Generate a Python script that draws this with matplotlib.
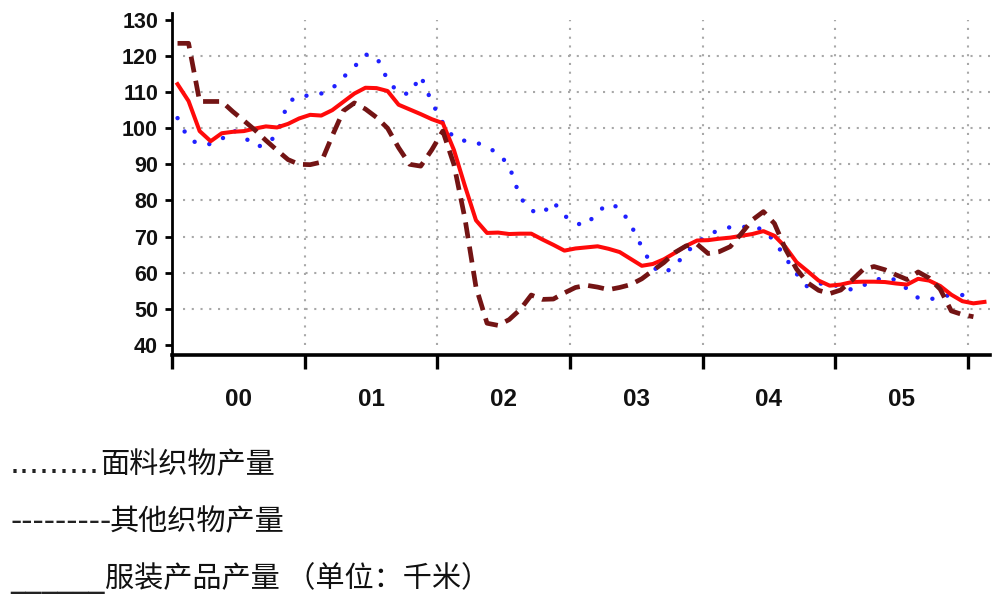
import numpy as np
import matplotlib
matplotlib.use("Agg")
import matplotlib.pyplot as plt

# monthly index values, Jan 2000 onward
fabric = [102.8, 97.0, 95.6, 95.6, 97.0, 99.5, 97.7, 94.9, 95.3, 98.3, 107.2, 109.0,
          109.0, 109.6, 111.0, 114.1, 117.0, 120.4, 119.8, 113.4, 109.7, 109.5, 114.5, 107.2,
          101.5, 97.3, 96.5, 96.1, 94.7, 93.1, 89.6, 80.8, 77.2, 76.3, 79.6, 75.8,
          73.6, 73.2, 76.9, 79.0, 78.0, 73.3, 67.1, 61.5, 59.8, 61.9, 65.5, 68.3,
          70.5, 71.8, 72.6, 72.7, 72.6, 72.0, 68.7, 64.1, 59.7, 56.0, 57.0, 56.8,
          56.1, 55.3, 56.4, 57.9, 58.6, 58.0, 55.5, 53.0, 52.6, 53.2, 53.9, 53.8,
          53.1]
other = [123.5, 123.5, 107.4, 107.4, 107.4, 104.6, 102.1, 99.5, 96.6, 93.9, 91.3, 90.0,
         89.9, 90.6, 97.9, 104.8, 107.0, 105.3, 103.0, 100.0, 94.6, 90.0, 89.5, 94.0,
         99.2, 90.0, 75.0, 56.0, 46.0, 45.4, 47.0, 49.8, 53.8, 52.6, 52.7, 54.4,
         55.9, 56.5, 56.0, 55.3, 55.9, 56.7, 58.3, 60.6, 62.8, 65.6, 67.4, 67.9,
         65.3, 65.8, 67.2, 70.8, 74.6, 76.9, 73.6, 66.5, 61.0, 57.2, 55.1, 54.2,
         55.2, 57.9, 60.8, 61.7, 60.8, 59.4, 58.1, 60.2, 58.5, 55.4, 49.4, 48.4,
         47.8]
apparel = [112.2, 107.5, 99.2, 96.4, 98.6, 99.0, 99.2, 99.9, 100.5, 100.2, 101.2, 102.7,
           103.7, 103.5, 105.0, 107.3, 109.6, 111.2, 111.1, 110.3, 106.5, 105.2, 103.9, 102.5,
           101.4, 94.0, 84.0, 74.5, 71.0, 71.1, 70.7, 70.8, 70.8, 69.2, 67.7, 66.1,
           66.7, 67.0, 67.3, 66.6, 65.7, 63.8, 61.9, 62.4, 63.7, 65.5, 67.4, 68.9,
           69.0, 69.4, 69.7, 70.2, 70.7, 71.5, 70.2, 67.1, 62.9, 60.4, 57.8, 56.4,
           56.7, 57.4, 57.5, 57.5, 57.4, 57.0, 56.7, 58.3, 57.8, 56.3, 53.9, 52.1,
           51.5, 51.9]

year_labels = ["00", "01", "02", "03", "04", "05"]
y_ticks = [40, 50, 60, 70, 80, 90, 100, 110, 120, 130]
legend_labels = ["面料织物产量", "其他织物产量", "服装产品产量 （单位：千米）"]
legend_leaders = ["." * 9, "-" * 9, "_" * 6]

W, H = 999, 595
fig = plt.figure(figsize=(W / 100, H / 100), dpi=100)
ax = fig.add_axes([172 / W, 1 - 355 / H, 818 / W, 342 / H])

x_f = np.arange(len(fabric)) + 0.5
x_o = np.arange(len(other)) + 0.5
x_a = np.arange(len(apparel)) + 0.5

# grid
grid_kw = dict(color="#a8a8a8", lw=1.5, linestyle=(0, (1, 3.2)), zorder=0)
ax.hlines(y_ticks[1:-1], 1, 74, **grid_kw)
ax.vlines(np.arange(12, 73, 12), 40, 130, **grid_kw)

ax.plot(x_f, fabric, color="#2020ff", lw=3.2, linestyle=(0, (0.01, 3.4)),
        dash_capstyle="round", zorder=2)
ax.plot(x_a, apparel, color="#ff0a0a", lw=2.9, zorder=3, solid_joinstyle="round")
ax.plot(x_o, other, color="#731414", lw=3.4, linestyle=(0, (3.4, 1.8)), zorder=4)

ax.set_xlim(0, 74)
ax.set_ylim(37.2, 131.9)

for s in ["top", "right"]:
    ax.spines[s].set_visible(False)
ax.spines["left"].set_linewidth(2.0)
ax.spines["bottom"].set_linewidth(2.6)

ax.set_yticks(y_ticks)
ax.tick_params(axis="y", length=5, width=2, pad=5, labelsize=15.5)
ax.set_xticks(np.arange(0, 73, 12))
ax.set_xticklabels([])
ax.tick_params(axis="x", which="major", length=10, width=2.4, direction="out")
ax.set_xticks(np.arange(6, 72, 12), minor=True)
ax.set_xticklabels(year_labels, minor=True)
ax.tick_params(axis="x", which="minor", length=0, pad=24, labelsize=17.5)
for lab in ax.get_xticklabels(minor=True) + ax.get_yticklabels():
    lab.set_fontfamily("Liberation Sans")
    lab.set_fontweight("bold")
    lab.set_color("#111111")

# text legend below the chart
label_x = [100, 110, 105]
baselines = [473, 530, 587]
for lead, lab, lx, by in zip(legend_leaders, legend_labels, label_x, baselines):
    fig.text(10 / W, 1 - by / H, lead, fontsize=22.5, family="DejaVu Sans",
             va="baseline", ha="left", color="#222222")
    fig.text(lx / W, 1 - by / H, lab, fontsize=21,
             family=["Noto Sans CJK SC", "DejaVu Sans"],
             va="baseline", ha="left", color="#111111")

fig.savefig("out.png", dpi=100)
